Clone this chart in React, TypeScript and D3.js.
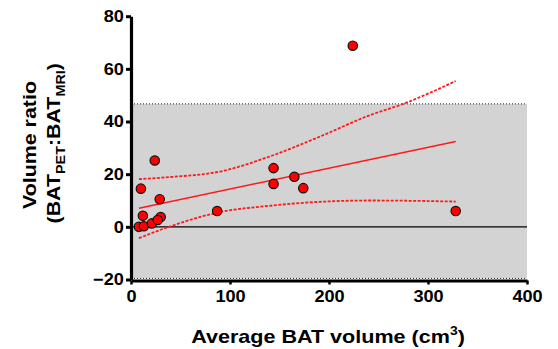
import React, { useRef, useEffect } from 'react'
import * as d3 from 'd3'

// measured points: average BAT volume (cm3) vs volume ratio
const volume = [8, 13, 10, 12, 21, 24, 29, 30, 27, 87, 144, 144, 165, 174, 328, 224]
const ratio = [0, 0.2, 14.5, 4.2, 1.3, 25.2, 10.5, 3.7, 2.6, 6, 22.3, 16.3, 19, 14.7, 6, 68.8]

// regression line and 95% bands
const fitX = [8, 328]
const fitY = [7.1, 32.4]
const upperX = [8, 39, 90, 140, 191, 242, 275, 328]
const upperY = [18.1, 18.9, 21, 26.7, 34.3, 42.5, 46.7, 55.4]
const lowerX = [8, 39, 90, 140, 191, 242, 328]
const lowerY = [-4.3, 0.1, 5.6, 8, 9.5, 10, 9.6]

// shaded band limits
const bandTop = 46.7
const bandBottom = -19.6

const xTicks = [0, 100, 200, 300, 400]
const yTicks = [-20, 0, 20, 40, 60, 80]

export default function App() {
  const svgRef = useRef<SVGSVGElement>(null)

  useEffect(() => {
    const width = 558
    const height = 349
    const svg = d3.select(svgRef.current)
    svg.selectAll('*').remove()
    svg.attr('viewBox', `0 0 ${width} ${height}`)

    const x = d3.scaleLinear().domain([0, 400]).range([131, 527])
    const y = d3.scaleLinear().domain([-20, 80]).range([279.5, 16.2])
    const font = "'Liberation Sans', Arial, sans-serif"

    // grey band
    svg.append('rect')
      .attr('x', x(0))
      .attr('y', y(bandTop))
      .attr('width', x(400) - x(0))
      .attr('height', y(bandBottom) - y(bandTop))
      .attr('fill', '#d3d3d3')

    for (const v of [bandTop, bandBottom]) {
      svg.append('line')
        .attr('x1', x(0)).attr('x2', x(400))
        .attr('y1', y(v)).attr('y2', y(v))
        .attr('stroke', '#222')
        .attr('stroke-width', 1)
        .attr('stroke-dasharray', '1,2')
    }

    // zero line
    svg.append('line')
      .attr('x1', x(0)).attr('x2', x(400))
      .attr('y1', y(0)).attr('y2', y(0))
      .attr('stroke', '#000')
      .attr('stroke-width', 1.2)

    const line = d3.line<[number, number]>()
      .x(d => x(d[0]))
      .y(d => y(d[1]))

    const curve = d3.line<[number, number]>()
      .x(d => x(d[0]))
      .y(d => y(d[1]))
      .curve(d3.curveMonotoneX)

    const red = '#ff1a1a'

    svg.append('path')
      .attr('d', line(fitX.map((v, i) => [v, fitY[i]]) as [number, number][]))
      .attr('fill', 'none')
      .attr('stroke', red)
      .attr('stroke-width', 1.5)

    for (const [bx, by] of [[upperX, upperY], [lowerX, lowerY]]) {
      svg.append('path')
        .attr('d', curve(bx.map((v, i) => [v, by[i]]) as [number, number][]))
        .attr('fill', 'none')
        .attr('stroke', red)
        .attr('stroke-width', 1.8)
        .attr('stroke-dasharray', '3,1.5')
    }

    // points
    svg.append('g')
      .selectAll('circle')
      .data(volume.map((v, i) => [v, ratio[i]]))
      .join('circle')
      .attr('cx', d => x(d[0]))
      .attr('cy', d => y(d[1]))
      .attr('r', 4.7)
      .attr('fill', '#ff0000')
      .attr('stroke', '#111')
      .attr('stroke-width', 1.2)

    // axes (text stretched a bit wider like the original export)
    const yAxis = svg.append('g')
      .attr('transform', `translate(${x(0)},0)`)
      .call(d3.axisLeft(y).tickValues(yTicks).tickSize(5).tickSizeOuter(0).tickPadding(1.5))
    yAxis.select('.domain').attr('stroke-width', 3.2).attr('stroke', '#000')
    yAxis.selectAll('.tick line').attr('stroke-width', 3).attr('stroke', '#000')
    yAxis.selectAll('.tick text')
      .attr('font-family', font).attr('font-size', 16.5).attr('font-weight', 'bold').attr('fill', '#000')
      .attr('transform', 'scale(1.1,1)')

    const xAxis = svg.append('g')
      .attr('transform', `translate(0,${y(-20) + 1})`)
      .call(d3.axisBottom(x).tickValues(xTicks).tickSize(4).tickSizeOuter(0).tickPadding(6))
    xAxis.select('.domain').attr('stroke-width', 3.2).attr('stroke', '#000')
    xAxis.selectAll('.tick line').attr('stroke-width', 2.5).attr('stroke', '#000')
    xAxis.selectAll('.tick text')
      .attr('font-family', font).attr('font-size', 16.5).attr('font-weight', 'bold').attr('fill', '#000')
      .attr('transform', 'scale(1.1,1)')

    // x title
    const xt = svg.append('text')
      .attr('transform', 'translate(328,342.7) scale(1.16,1)')
      .attr('text-anchor', 'middle')
      .attr('font-family', font).attr('font-size', 18.6).attr('font-weight', 'bold')
    xt.append('tspan').text('Average BAT volume (cm')
    xt.append('tspan').attr('dy', -7.5).attr('font-size', 12).text('3')
    xt.append('tspan').attr('dy', 7.5).text(')')

    // y title
    const yt = svg.append('g').attr('transform', 'translate(36,145) rotate(-90) scale(1.15,1)')
    yt.append('text')
      .attr('text-anchor', 'middle')
      .attr('font-family', font).attr('font-size', 18.6).attr('font-weight', 'bold')
      .text('Volume ratio')
    const yt2 = yt.append('text')
      .attr('y', 24)
      .attr('x', 1.5)
      .attr('text-anchor', 'middle')
      .attr('font-family', font).attr('font-size', 18.6).attr('font-weight', 'bold')
    yt2.append('tspan').text('(BAT')
    yt2.append('tspan').attr('dy', 5).attr('font-size', 12.5).text('PET')
    yt2.append('tspan').attr('dy', -5).text(':BAT')
    yt2.append('tspan').attr('dy', 5).attr('font-size', 12.5).text('MRI')
    yt2.append('tspan').attr('dy', -5).text(')')
  }, [])

  return (
    <svg
      ref={svgRef}
      width={558}
      height={349}
      style={{ position: 'absolute', left: 0, top: 0, background: '#fff' }}
      role="img"
      aria-label="Volume ratio versus average BAT volume scatter plot"
    />
  )
}
